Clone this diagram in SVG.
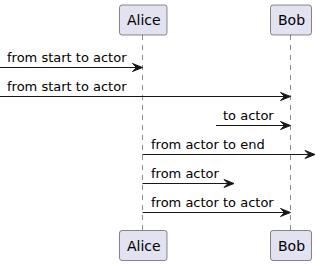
<svg xmlns="http://www.w3.org/2000/svg" width="316" height="265" viewBox="0 0 316 265">
<style>
.box{fill:#E2E2F0;stroke:#181818;stroke-width:0.5}
.life{stroke:#181818;stroke-width:0.5;stroke-dasharray:5,5;fill:none}
.msg{stroke:#181818;stroke-width:1;fill:none}
.head{fill:#181818;stroke:#181818;stroke-width:1}
.pt{font-family:"DejaVu Sans",sans-serif;font-size:14px;fill:#000}
.mt{font-family:"DejaVu Sans",sans-serif;font-size:13px;fill:#000}
</style>
<rect width="316" height="265" fill="#fff"/>
<g id="lifelines">
<line class="life" x1="142.5" y1="35" x2="142.5" y2="231"/>
<line class="life" x1="290.5" y1="35" x2="290.5" y2="231"/>
</g>
<g id="alice">
<rect class="box" x="119.5" y="5" width="47.5" height="30" rx="2.5"/>
<text class="pt" x="127" y="25">Alice</text>
<rect class="box" x="119.5" y="230.5" width="47.5" height="30" rx="2.5"/>
<text class="pt" x="127" y="250.5">Alice</text>
</g>
<g id="bob">
<rect class="box" x="270.5" y="5" width="41" height="30" rx="2.5"/>
<text class="pt" x="278" y="25">Bob</text>
<rect class="box" x="270.5" y="230.5" width="41" height="30" rx="2.5"/>
<text class="pt" x="278" y="250.5">Bob</text>
</g>
<g id="connectors">
<line class="msg" x1="0" y1="67.5" x2="138" y2="67.5"/>
<polygon class="head" points="132.5,63.5 142.5,67.5 132.5,71.5 136.5,67.5"/>
<text class="mt" x="7" y="62">from start to actor</text>

<line class="msg" x1="0" y1="96.5" x2="286" y2="96.5"/>
<polygon class="head" points="280.5,92.5 290.5,96.5 280.5,100.5 284.5,96.5"/>
<text class="mt" x="7" y="91">from start to actor</text>

<line class="msg" x1="216" y1="125.5" x2="286" y2="125.5"/>
<polygon class="head" points="280.5,121.5 290.5,125.5 280.5,129.5 284.5,125.5"/>
<text class="mt" x="223" y="120">to actor</text>

<line class="msg" x1="142.5" y1="154.5" x2="311" y2="154.5"/>
<polygon class="head" points="305,150.5 315,154.5 305,158.5 309,154.5"/>
<text class="mt" x="151" y="149">from actor to end</text>

<line class="msg" x1="142.5" y1="183.5" x2="230" y2="183.5"/>
<polygon class="head" points="224,179.5 234,183.5 224,187.5 228,183.5"/>
<text class="mt" x="151" y="178">from actor</text>

<line class="msg" x1="142.5" y1="212.5" x2="286" y2="212.5"/>
<polygon class="head" points="280.5,208.5 290.5,212.5 280.5,216.5 284.5,212.5"/>
<text class="mt" x="151" y="207">from actor to actor</text>
</g>
</svg>
